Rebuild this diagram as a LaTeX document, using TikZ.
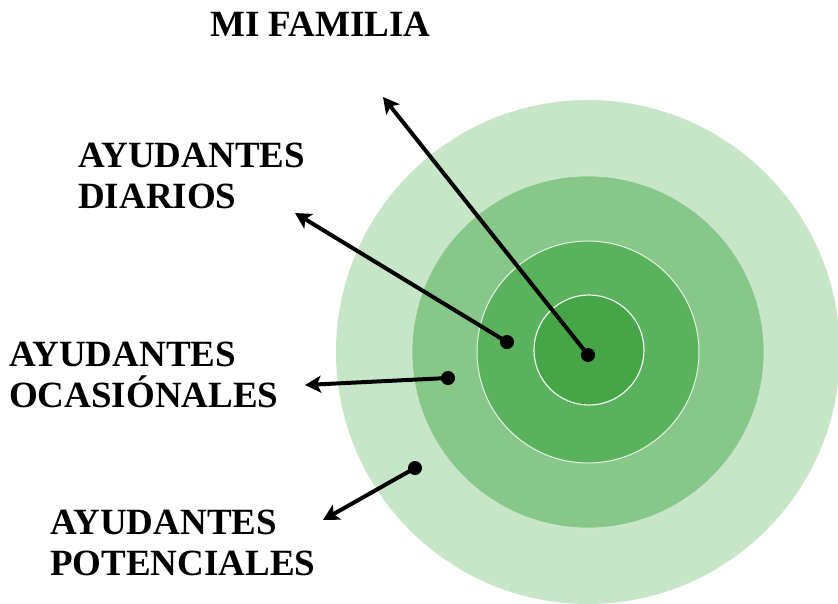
\documentclass[tikz,border=0pt]{standalone}
\usepackage{fontspec}
\setmainfont{Liberation Serif}
\usetikzlibrary{arrows.meta}
\definecolor{ring1}{HTML}{C7E6C8}
\definecolor{ring2}{HTML}{88C78A}
\definecolor{ring3}{HTML}{5AB25C}
\definecolor{ring4}{HTML}{45A547}
\begin{document}
\begin{tikzpicture}[x=1pt, y=-1pt,
  dot/.style = {circle, fill=black, inner sep=0pt, minimum size=14pt},
  lbl/.style = {anchor=north west, inner sep=0pt, align=left, font=\fontsize{37}{41}\selectfont\bfseries},
  arr/.style = {line width=4pt, -{Stealth[length=16pt, width=17pt, inset=4pt]}}]
\useasboundingbox (0,0) rectangle (838,603);
\fill[ring1] (588,352) circle (252);
\filldraw[fill=ring2, draw=white!60!ring2, line width=0.6pt] (588,352) circle (176);
\filldraw[fill=ring3, draw=white!85!ring3, line width=1pt] (588,352) circle (111);
\filldraw[fill=ring4, draw=white!90!ring4, line width=1.2pt] (589,350) circle (55);
\node[lbl] (fam) at (210,12) {MI FAMILIA};
\node[lbl] (dia) at (78,143) {AYUDANTES\\DIARIOS};
\node[lbl] (oca) at (9,342) {AYUDANTES\\OCASIÓNALES};
\node[lbl] (pot) at (50,510) {AYUDANTES\\POTENCIALES};
\node[dot] (dfam) at (588,355) {};
\node[dot] (ddia) at (507,342) {};
\node[dot] (doca) at (448,378) {};
\node[dot] (dpot) at (415,468) {};
\coordinate (tfam) at (383,97);
\coordinate (tdia) at (295,213);
\coordinate (toca) at (305,385);
\coordinate (tpot) at (323,520);
\draw[arr] (dfam.center) -- (tfam);
\draw[arr] (ddia.center) -- (tdia);
\draw[arr] (doca.center) -- (toca);
\draw[arr] (dpot.center) -- (tpot);
\end{tikzpicture}
\end{document}
